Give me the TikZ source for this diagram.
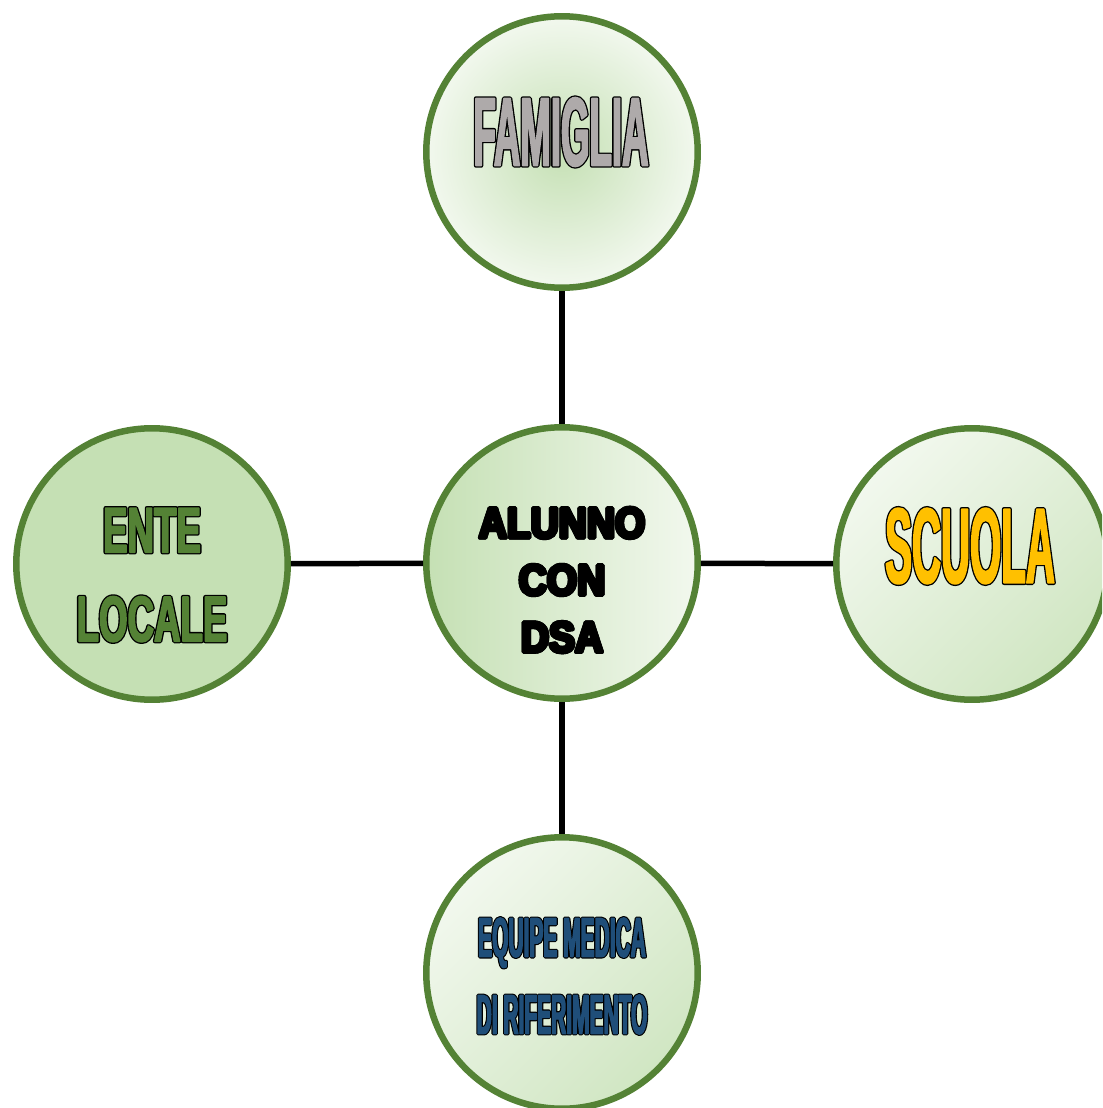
\documentclass[tikz,border=0pt]{standalone}
\usepackage{fontspec}
\setmainfont{Liberation Sans}
\newfontfamily\narrowfont[FakeStretch=0.375]{Liberation Sans Bold}
\newfontfamily\semifont[FakeStretch=0.57]{Liberation Sans Bold}
\newfontfamily\heavyfont[FakeStretch=0.9]{Liberation Sans Bold}
\usetikzlibrary{positioning}

\definecolor{ringgreen}{HTML}{548235}
\definecolor{palegreen}{HTML}{C5E0B4}
\definecolor{paler}{HTML}{F2F8EE}
\definecolor{famgray}{HTML}{AEAAAA}
\definecolor{scuolagold}{HTML}{FFC000}
\definecolor{equipeblue}{HTML}{1F4E79}

% word art: black outline under a fattened coloured letter
\newcommand\wordart[4]{\rlap{\color{#1}\special{pdf:literal direct 0 0 0 RG 1 j #2 w 2 Tr}#4\special{pdf:literal direct 0 Tr}}%
  {\color{#1}\special{pdf:literal direct 1 j #3 w 2 Tr}#4\special{pdf:literal direct 0 Tr}}}

\tikzset{
  ring/.style={circle, draw=ringgreen, line width=0.13cm, minimum size=5.43cm, inner sep=0pt},
  link/.style={line width=0.11cm, black},
  word/.style={inner sep=0pt, align=center}
}

\begin{document}
\begin{tikzpicture}[x=0.02cm, y=-0.02cm]
                \path[use as bounding box, clip] (0,0) rectangle (1102,1108);

                \node[ring, left color=palegreen, right color=paler] (alunno) at (562,563) {};
                \node[ring, inner color=palegreen, outer color=paler] (famiglia) at (562,152) {};
                \node[ring, fill=palegreen] (ente) at (152,564) {};
                \node[ring, top color=paler, bottom color=palegreen!75!paler, shading angle=45] (scuola) at (972,564) {};
                \node[ring, top color=paler, bottom color=palegreen!75!paler, shading angle=45] (equipe) at (562,973) {};

                \draw[link] (alunno) -- (famiglia);
                \draw[link] (alunno) -- (ente);
                \draw[link] (alunno) -- (scuola);
                \draw[link] (alunno) -- (equipe);

                \node[word, font=\narrowfont\fontsize{55.6pt}{60pt}\selectfont] (famtext) at (561,132) {\wordart{famgray}{2.4}{0.9}{FAMIGLIA}};
                \node[word, font=\narrowfont\fontsize{61pt}{66pt}\selectfont] (scuolatext) at (970,546) {\wordart{scuolagold}{2.4}{0.9}{SCUOLA}};
                \node[word, font=\semifont\fontsize{36.6pt}{50.6pt}\selectfont] (entetext) at (152,575) {\wordart{ringgreen}{2.4}{0.9}{ENTE}\\\wordart{ringgreen}{2.4}{0.9}{LOCALE}};
                \node[word, font=\narrowfont\fontsize{31.8pt}{43.8pt}\selectfont] (equipetext) at (562,976) {\wordart{equipeblue}{2}{0.7}{EQUIPE MEDICA}\\\wordart{equipeblue}{2}{0.7}{DI RIFERIMENTO}};
                \node[word, font=\heavyfont\fontsize{24.6pt}{32.5pt}\selectfont] (alunnotext) at (562,580) {\wordart{black}{2.2}{2.2}{ALUNNO}\\\wordart{black}{2.2}{2.2}{CON}\\\wordart{black}{2.2}{2.2}{DSA}};
            \end{tikzpicture}
\end{document}
